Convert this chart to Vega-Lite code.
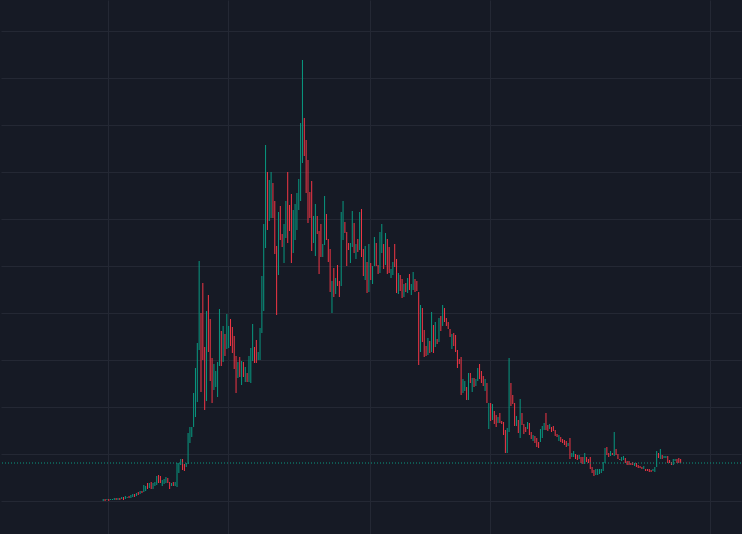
{
"$schema": "https://vega.github.io/schema/vega-lite/v6.json",
"width": 742, "height": 534, "padding": 0,
"autosize": {"type": "fit", "contains": "padding"},
"background": "#161a25",
"config": {"view": {"stroke": null}, "axis": {"labels": false, "ticks": false, "domain": false, "title": null, "gridColor": "#242834", "gridWidth": 1}},
"datasets": {"candles": [
{"i":0,"o":3.3,"c":3.5},{"i":1,"o":3.5,"c":3.3},{"i":2,"o":3.4,"c":3.5},{"i":3,"o":3.5,"c":3.3},{"i":4,"o":3.4,"c":3.5},{"i":5,"o":3.4,"c":3.5},
{"i":6,"o":3.4,"c":3.6},{"i":7,"o":3.6,"c":3.4},{"i":8,"o":3.4,"c":3.6},{"i":9,"o":3.6,"c":3.4},{"i":10,"o":3.5,"c":3.7},{"i":11,"o":3.7,"c":3.4},{"i":12,"o":3.5,"c":3.8},
{"i":13,"o":3.6,"c":3.7},
{"i":14,"o":3.8,"c":3.6},{"i":15,"o":3.6,"c":3.9},{"i":16,"o":3.7,"c":4.0},{"i":17,"o":4.0,"c":3.7},{"i":18,"o":3.8,"c":4.1},{"i":19,"o":4.2,"c":3.9},{"i":20,"o":4.0,"c":4.3},{"i":21,"o":4.3,"c":4.1},
{"i":22,"o":4.2,"c":4.9},{"i":23,"o":4.3,"c":4.8},{"i":24,"o":5.1,"c":4.5},{"i":25,"o":4.6,"c":5.1},{"i":26,"o":5.2,"c":4.5},{"i":27,"o":4.5,"c":5.1},{"i":28,"o":4.8,"c":5.2},{"i":29,"o":4.9,"c":5.8},{"i":30,"o":5.9,"c":5.1},{"i":31,"o":5.8,"c":5.1},
{"i":32,"o":4.8,"c":5.4},{"i":33,"o":5.0,"c":5.5},{"i":34,"o":5.1,"c":5.7},
{"i":35,"o":5.6,"c":5.1},
{"i":36,"o":5.2,"c":4.5},{"i":37,"o":4.8,"c":5.1},{"i":38,"o":5.2,"c":4.8},{"i":39,"o":4.8,"c":5.2},{"i":40,"o":4.7,"c":7.1},{"i":41,"o":6.1,"c":7.1},{"i":42,"o":6.9,"c":7.5},
{"i":43,"o":7.5,"c":6.4},{"i":44,"o":7.0,"c":6.3},{"i":45,"o":6.7,"c":7.1},{"i":46,"o":7.0,"c":10.1},{"i":47,"o":9.1,"c":10.7},{"i":48,"o":9.7,"c":10.7},{"i":49,"o":10.7,"c":14.1},{"i":50,"o":11.7,"c":16.6},{"i":51,"o":13.2,"c":19.1},{"i":52,"o":18.4,"c":27.3},
{"i":53,"o":22.1,"c":14.2},{"i":54,"o":25.1,"c":17.4},{"i":55,"o":18.7,"c":12.4},{"i":56,"o":13.3,"c":22.3},{"i":57,"o":23.9,"c":18.2},{"i":58,"o":21.5,"c":15.3},{"i":59,"o":17.6,"c":13.1},{"i":60,"o":14.4,"c":17.0},{"i":61,"o":14.7,"c":16.3},{"i":62,"o":13.7,"c":17.2},
{"i":63,"o":16.8,"c":22.5},{"i":64,"o":20.3,"c":16.8},{"i":65,"o":17.2,"c":20.8},{"i":66,"o":20.0,"c":17.8},{"i":67,"o":18.5,"c":22.0},{"i":68,"o":18.6,"c":20.8},{"i":69,"o":21.5,"c":18.8},{"i":70,"o":20.7,"c":18.1},{"i":71,"o":19.8,"c":16.5},{"i":72,"o":17.8,"c":14.1},
{"i":73,"o":15.6,"c":17.2},{"i":74,"o":17.7,"c":15.7},{"i":75,"o":14.9,"c":17.3},{"i":76,"o":17.2,"c":15.7},{"i":77,"o":15.2,"c":16.7},{"i":78,"o":16.1,"c":15.2},{"i":79,"o":15.2,"c":17.8},{"i":80,"o":15.1,"c":18.6},{"i":81,"o":17.3,"c":21.0},{"i":82,"o":18.7,"c":17.1},
{"i":83,"o":19.4,"c":17.1},{"i":84,"o":17.4,"c":18.2},{"i":85,"o":17.4,"c":20.6},{"i":86,"o":20.1,"c":25.8},{"i":87,"o":22.3,"c":31.0},{"i":88,"o":28.6,"c":38.9},{"i":89,"o":36.2,"c":30.4},{"i":90,"o":31.3,"c":35.4},{"i":91,"o":31.6,"c":36.2},{"i":92,"o":35.1,"c":31.6},
{"i":93,"o":33.3,"c":28.0},{"i":94,"o":28.8,"c":21.9},{"i":95,"o":25.9,"c":32.2},{"i":96,"o":32.8,"c":29.4},{"i":97,"o":30.0,"c":28.7},{"i":98,"o":27.1,"c":31.0},{"i":99,"o":29.6,"c":33.3},{"i":100,"o":36.2,"c":29.1},{"i":101,"o":32.9,"c":30.3},{"i":102,"o":34.0,"c":27.1},
{"i":103,"o":28.1,"c":32.4},{"i":104,"o":29.4,"c":33.0},{"i":105,"o":30.4,"c":34.1},{"i":106,"o":32.4,"c":35.5},{"i":107,"o":33.3,"c":41.1},{"i":108,"o":37.1,"c":47.4},{"i":109,"o":41.6,"c":37.8},{"i":110,"o":39.4,"c":34.1},{"i":111,"o":37.4,"c":31.1},{"i":112,"o":34.2,"c":31.6},
{"i":113,"o":35.3,"c":28.3},{"i":114,"o":29.1,"c":31.8},{"i":115,"o":27.8,"c":33.0},{"i":116,"o":31.8,"c":30.0},{"i":117,"o":30.3,"c":26.0},{"i":118,"o":31.0,"c":27.7},{"i":119,"o":27.7,"c":29.0},{"i":120,"o":28.9,"c":33.8},{"i":121,"o":32.0,"c":29.4},{"i":122,"o":29.5,"c":27.2},
{"i":123,"o":28.5,"c":24.2},{"i":124,"o":22.1,"c":25.3},{"i":125,"o":26.6,"c":23.7},{"i":126,"o":24.0,"c":25.6},{"i":127,"o":26.9,"c":24.8},{"i":128,"o":25.3,"c":23.7},{"i":129,"o":24.8,"c":32.2},{"i":130,"o":29.4,"c":33.3},{"i":131,"o":31.2,"c":30.1},{"i":132,"o":30.2,"c":26.8},
{"i":133,"o":29.1,"c":28.4},{"i":134,"o":27.1,"c":29.1},{"i":135,"o":28.7,"c":32.3},{"i":136,"o":31.1,"c":28.1},{"i":137,"o":27.5,"c":29.0},{"i":138,"o":29.5,"c":28.2},{"i":139,"o":28.4,"c":32.2},{"i":140,"o":32.5,"c":27.7},{"i":141,"o":28.5,"c":25.8},{"i":142,"o":25.4,"c":28.8},
{"i":143,"o":27.2,"c":24.1},{"i":144,"o":24.2,"c":29.0},{"i":145,"o":27.1,"c":25.4},{"i":146,"o":25.0,"c":26.8},{"i":147,"o":26.8,"c":29.7},{"i":148,"o":29.1,"c":26.8},{"i":149,"o":26.9,"c":26.0},{"i":150,"o":26.1,"c":30.2},{"i":151,"o":28.1,"c":31.0},{"i":152,"o":29.0,"c":26.5},
{"i":153,"o":26.9,"c":30.1},{"i":154,"o":29.5,"c":26.0},{"i":155,"o":28.7,"c":26.1},{"i":156,"o":25.6,"c":26.5},{"i":157,"o":25.9,"c":27.2},{"i":158,"o":29.0,"c":26.7},{"i":159,"o":27.5,"c":24.1},{"i":160,"o":24.0,"c":26.1},{"i":161,"o":25.9,"c":24.3},{"i":162,"o":25.5,"c":23.6},
{"i":163,"o":23.7,"c":25.0},{"i":164,"o":25.1,"c":24.2},{"i":165,"o":24.1,"c":25.6},{"i":166,"o":26.0,"c":24.4},{"i":167,"o":23.9,"c":25.0},{"i":168,"o":24.4,"c":26.2},{"i":169,"o":25.5,"c":24.2},{"i":170,"o":25.3,"c":24.3},{"i":171,"o":24.2,"c":16.9},{"i":172,"o":18.2,"c":22.9},
{"i":173,"o":22.6,"c":19.2},{"i":174,"o":20.4,"c":17.7},{"i":175,"o":18.8,"c":17.8},{"i":176,"o":17.9,"c":19.6},{"i":177,"o":19.3,"c":18.1},{"i":178,"o":18.2,"c":22.2},{"i":179,"o":20.9,"c":18.1},{"i":180,"o":18.7,"c":21.2},{"i":181,"o":19.5,"c":19.0},{"i":182,"o":19.2,"c":21.6},
{"i":183,"o":21.8,"c":20.3},{"i":184,"o":20.8,"c":22.9},{"i":185,"o":22.6,"c":21.2},{"i":186,"o":21.6,"c":20.8},{"i":187,"o":21.2,"c":20.5},{"i":188,"o":20.5,"c":19.7},{"i":189,"o":18.5,"c":20.0},{"i":190,"o":20.1,"c":18.8},{"i":191,"o":19.9,"c":18.2},{"i":192,"o":18.4,"c":16.6},
{"i":193,"o":17.5,"c":17.0},{"i":194,"o":17.7,"c":13.9},{"i":195,"o":14.1,"c":15.5},{"i":196,"o":14.3,"c":15.3},{"i":197,"o":14.7,"c":13.4},{"i":198,"o":13.4,"c":16.1},{"i":199,"o":16.1,"c":15.1},{"i":200,"o":14.2,"c":15.6},{"i":201,"o":15.6,"c":14.7},{"i":202,"o":14.8,"c":15.5},
{"i":203,"o":15.3,"c":16.6},{"i":204,"o":17.0,"c":15.5},{"i":205,"o":16.3,"c":15.1},{"i":206,"o":15.8,"c":14.8},{"i":207,"o":14.3,"c":15.5},{"i":208,"o":15.1,"c":13.1},{"i":209,"o":10.5,"c":13.1},{"i":210,"o":13.1,"c":11.3},{"i":211,"o":11.4,"c":13.0},{"i":212,"o":12.3,"c":11.0},
{"i":213,"o":11.9,"c":10.7},{"i":214,"o":11.1,"c":11.7},{"i":215,"o":12.1,"c":11.1},{"i":216,"o":11.3,"c":11.0},{"i":217,"o":11.2,"c":9.9},{"i":218,"o":10.4,"c":8.1},{"i":219,"o":8.1,"c":10.6},{"i":220,"o":10.2,"c":17.6},{"i":221,"o":15.1,"c":12.8},{"i":222,"o":13.9,"c":13.0},
{"i":223,"o":13.1,"c":10.8},{"i":224,"o":10.8,"c":11.8},{"i":225,"o":11.4,"c":10.1},{"i":226,"o":9.6,"c":13.5},{"i":227,"o":12.1,"c":10.9},{"i":228,"o":11.0,"c":10.0},{"i":229,"o":10.7,"c":10.2},{"i":230,"o":10.5,"c":11.2},{"i":231,"o":11.1,"c":9.9},{"i":232,"o":10.2,"c":9.5},
{"i":233,"o":9.3,"c":9.9},{"i":234,"o":9.8,"c":9.1},{"i":235,"o":9.6,"c":8.7},{"i":236,"o":9.2,"c":8.6},{"i":237,"o":9.2,"c":10.5},{"i":238,"o":9.6,"c":10.8},{"i":239,"o":10.4,"c":11.1},{"i":240,"o":12.1,"c":10.4},{"i":241,"o":10.9,"c":10.3},{"i":242,"o":10.5,"c":11.0},
{"i":243,"o":10.7,"c":10.2},{"i":244,"o":10.8,"c":10.3},{"i":245,"o":10.4,"c":9.8},{"i":246,"o":10.0,"c":9.7},{"i":247,"o":9.3,"c":9.9},{"i":248,"o":9.7,"c":9.2},{"i":249,"o":9.5,"c":9.1},{"i":250,"o":9.4,"c":8.9},{"i":251,"o":9.3,"c":8.7},{"i":252,"o":8.8,"c":9.1},
{"i":253,"o":9.6,"c":7.5},{"i":254,"o":7.7,"c":8.1},{"i":255,"o":7.7,"c":8.3},{"i":256,"o":8.0,"c":7.5},{"i":257,"o":7.9,"c":7.4},{"i":258,"o":7.5,"c":7.9},{"i":259,"o":7.7,"c":7.1},{"i":260,"o":7.7,"c":7.0},{"i":261,"o":7.0,"c":8.1},{"i":262,"o":7.7,"c":7.2},
{"i":263,"o":7.5,"c":7.1},{"i":264,"o":7.7,"c":6.5},{"i":265,"o":6.7,"c":6.1},{"i":266,"o":6.4,"c":5.8},{"i":267,"o":5.9,"c":6.5},{"i":268,"o":5.9,"c":6.5},{"i":269,"o":6.0,"c":6.5},{"i":270,"o":6.1,"c":6.5},{"i":271,"o":6.3,"c":7.2},{"i":272,"o":7.1,"c":8.6},
{"i":273,"o":8.7,"c":7.9},{"i":274,"o":8.1,"c":7.7},{"i":275,"o":7.8,"c":8.3},{"i":276,"o":8.1,"c":7.9},{"i":277,"o":7.8,"c":10.2},{"i":278,"o":8.5,"c":7.9},{"i":279,"o":8.0,"c":7.5},{"i":280,"o":7.5,"c":7.4},{"i":281,"o":7.3,"c":7.7},{"i":282,"o":7.4,"c":7.8},
{"i":283,"o":7.6,"c":7.1},{"i":284,"o":7.3,"c":6.9},{"i":285,"o":7.3,"c":6.9},{"i":286,"o":7.1,"c":6.9},{"i":287,"o":7.2,"c":6.9},{"i":288,"o":6.8,"c":7.1},{"i":289,"o":7.1,"c":6.7},{"i":290,"o":6.9,"c":6.6},{"i":291,"o":6.8,"c":6.6},{"i":292,"o":6.7,"c":6.5},
{"i":293,"o":6.5,"c":6.8},{"i":294,"o":6.5,"c":6.3},{"i":295,"o":6.5,"c":6.3},{"i":296,"o":6.5,"c":6.2},{"i":297,"o":6.4,"c":6.2},{"i":298,"o":6.3,"c":6.5},{"i":299,"o":6.2,"c":6.7},{"i":300,"o":6.7,"c":8.3},{"i":301,"o":8.1,"c":7.6},{"i":302,"o":7.5,"c":8.5},
{"i":303,"o":7.9,"c":7.5},{"i":304,"o":7.6,"c":7.8},{"i":305,"o":7.6,"c":7.8},{"i":306,"o":7.8,"c":7.1},{"i":307,"o":7.4,"c":7.1},{"i":308,"o":7.2,"c":6.9},{"i":309,"o":6.9,"c":7.5},{"i":310,"o":7.3,"c":7.5},{"i":311,"o":7.5,"c":7.1},{"i":312,"o":7.6,"c":7.1},
{"i":313,"o":7.5,"c":7.1}
],
"last": [{"price": 7.1}]
},
"layer": [
{
"data": {"name": "candles"},
"mark": {"type": "rule", "strokeWidth": 1},
"encoding": {
"x": {"field": "i", "type": "quantitative", "scale": {"domain": [-55.41, 345.71], "nice": false, "zero": false}, "axis": {"grid": true, "values": [2.43, 67.84, 144.61, 209.48, 328.95]}},
"y": {"field": "o", "type": "quantitative", "scale": {"domain": [0, 53.4], "nice": false, "zero": false}, "axis": {"grid": true, "values": [3.3, 8.0, 12.7, 17.4, 22.1, 26.8, 31.5, 36.2, 40.9, 45.6, 50.3]}},
"y2": {"field": "c"},
"color": {"condition": {"test": "datum.c >= datum.o", "value": "#089981"}, "value": "#f23645"}
}
},
{
"data": {"name": "last"},
"mark": {"type": "rule", "strokeWidth": 1, "strokeDash": [1, 2], "color": "#089981"},
"encoding": {"y": {"field": "price", "type": "quantitative"}}
}
]
}
